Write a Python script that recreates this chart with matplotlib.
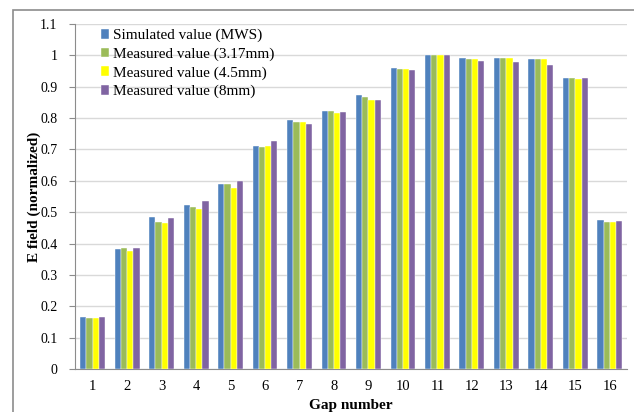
import numpy as np
import matplotlib.pyplot as plt
from matplotlib.patches import Rectangle

plt.rcParams['font.family'] = ['Liberation Serif', 'DejaVu Serif']

# data
gaps = [str(i) for i in range(1, 17)]
simulated = [0.166, 0.384, 0.484, 0.524, 0.591, 0.711, 0.794, 0.821,
             0.872, 0.960, 1.000, 0.992, 0.992, 0.989, 0.929, 0.474]
meas_317 = [0.164, 0.385, 0.469, 0.517, 0.589, 0.708, 0.788, 0.821,
            0.868, 0.957, 1.000, 0.987, 0.990, 0.989, 0.929, 0.470]
meas_45 = [0.164, 0.378, 0.466, 0.510, 0.578, 0.711, 0.786, 0.817,
           0.857, 0.957, 1.000, 0.987, 0.992, 0.987, 0.925, 0.470]
meas_8 = [0.166, 0.385, 0.480, 0.535, 0.598, 0.728, 0.780, 0.819,
          0.857, 0.954, 1.000, 0.983, 0.978, 0.970, 0.927, 0.472]

series = [simulated, meas_317, meas_45, meas_8]
labels = ['Simulated value (MWS)', 'Measured value (3.17mm)',
          'Measured value (4.5mm)', 'Measured value (8mm)']
colors = ['#4F81BD', '#9BBB59', '#FFFF00', '#8064A2']

fig = plt.figure(figsize=(6.34, 4.12), dpi=100)
ax = fig.add_axes([0.119, 0.104, 0.870, 0.838])

# chart area border (cropped at right and bottom)
fig.patches.append(Rectangle((13 / 634, -0.1), 1.2, 1 - 10 / 412 + 0.1,
                             transform=fig.transFigure, fill=False,
                             edgecolor='#8c8c8c', linewidth=1.2))

x = np.arange(len(gaps))
w = 0.18
for i, (vals, lab, col) in enumerate(zip(series, labels, colors)):
    ax.bar(x + (i - 1.5) * w, vals, w, color=col, label=lab,
           edgecolor='white', linewidth=0.3, zorder=3)

ax.set_xlim(-0.5, len(gaps) - 0.5)
ax.set_ylim(0, 1.1)
ax.set_yticks(np.arange(0, 1.11, 0.1))
ax.set_yticklabels(['0', '0.1', '0.2', '0.3', '0.4', '0.5', '0.6', '0.7',
                    '0.8', '0.9', '1', '1.1'])
ax.set_xticks(x)
ax.set_xticklabels(gaps)
ax.grid(axis='y', color='#d9d9d9', linewidth=1, zorder=0)
ax.set_axisbelow(True)

for s in ['top', 'right']:
    ax.spines[s].set_visible(False)
ax.spines['left'].set_color('#8c8c8c')
ax.spines['bottom'].set_color('#8c8c8c')
ax.tick_params(axis='y', length=4, color='#8c8c8c', labelsize=10, pad=9)
ax.tick_params(axis='x', length=0, labelsize=10.5, pad=8)

ax.set_xlabel('Gap number', fontsize=11, fontweight='bold', labelpad=4)
ax.set_ylabel('E field (normalized)', fontsize=11, fontweight='bold')
ax.yaxis.set_label_coords(-0.062, 0.5)

ax.legend(loc='upper left', bbox_to_anchor=(0.03, 1.012), frameon=False,
          fontsize=11, handlelength=0.5, handleheight=0.6, handletextpad=0.3,
          labelspacing=0.34, borderaxespad=0.2)

fig.savefig('out.png', dpi=100)
